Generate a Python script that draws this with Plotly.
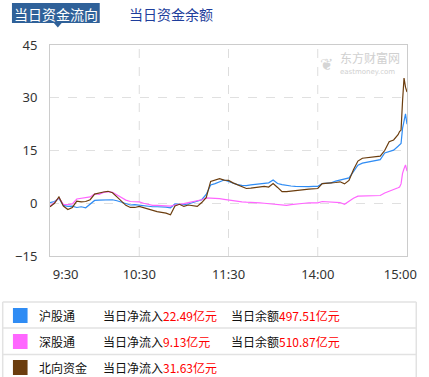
import plotly.graph_objects as go

# ---------------- data ----------------
minutes = [0, 3, 6, 9, 12, 15, 18, 21, 24, 27, 30, 33, 36, 39, 42, 45, 48, 51, 54, 57,
           60, 63, 66, 69, 72, 75, 78, 81, 84, 87, 90, 93, 96, 99, 102, 105, 108, 111, 114, 117,
           120, 123, 126, 129, 132, 135, 138, 141, 144, 147, 150, 153, 156, 159, 162, 165, 168, 171, 174, 177,
           180, 183, 186, 189, 192, 195, 198, 201, 204, 207, 210, 213, 216, 219, 222, 225, 228, 231, 234,
           235, 236, 237, 238, 239, 240]

sh_flow = [0.2, 0.5, 1.4, -0.6, -0.9, -0.8, -1.2, -1.0, -1.3, -0.2, 0.8, 0.9, 0.9, 1.0, 1.0, 0.7, 0.3, -0.3, -0.5, -0.4,
           -0.6, -0.8, -0.8, -1.0, -1.0, -1.0, -1.1, -1.3, -0.2, -0.3, -0.4, -0.2, 0.2, 0.4, 1.0, 2.5, 5.2, 5.6, 6.2, 6.6,
           6.2, 5.7, 5.3, 5.1, 5.0, 5.2, 5.3, 5.4, 5.6, 5.8, 6.6, 5.6, 5.3, 5.0, 4.9, 4.8, 4.7, 4.7, 4.7, 4.8,
           4.8, 5.6, 5.7, 5.8, 6.3, 6.6, 6.8, 7.2, 9.0, 10.8, 11.4, 11.7, 11.9, 12.1, 12.4, 14.3, 14.7, 15.1, 16.2,
           16.6, 17.0, 21.3, 23.8, 25.4, 22.49]

sz_flow = [-0.8, 0.2, 1.6, -0.3, -0.4, -0.2, 1.2, 1.4, 1.7, 1.8, 2.7, 2.5, 3.1, 3.3, 3.1, 2.4, 1.6, 0.9, 0.5, 0.4,
           0.4, 0.0, -0.4, -0.6, -0.6, -0.7, -0.8, -0.8, -0.5, -0.4, -0.1, 0.2, 0.4, 0.6, 1.0, 1.5, 1.5, 1.4, 1.3, 1.1,
           0.9, 0.6, 0.4, 0.4, 0.3, 0.3, 0.1, 0.1, 0.0, -0.1, -0.1, -0.2, -0.5, -0.6, -0.4, -0.2, -0.1, 0.0, 0.1, 0.1,
           0.1, 0.5, 0.4, 0.4, 0.3, 0.2, -0.3, 0.6, 1.4, 2.0, 2.0, 2.0, 2.0, 2.0, 2.2, 2.9, 3.5, 3.9, 4.4,
           4.6, 5.5, 8.5, 9.8, 10.9, 9.13]

north_flow = [-1.0, 0.0, 1.8, -0.8, -1.8, -1.2, 0.6, 0.4, 0.5, 1.0, 2.6, 3.0, 3.2, 3.4, 3.0, 1.8, 0.6, -0.6, -1.2, -1.2,
              -0.9, -1.3, -1.6, -2.2, -2.4, -2.6, -2.8, -3.3, -0.8, -0.3, -0.9, -0.5, -0.8, -0.9, 0.2, 1.6, 6.2, 6.6, 7.0, 6.6,
              6.5, 5.8, 5.3, 4.6, 4.2, 4.3, 4.5, 4.5, 4.8, 4.6, 5.6, 4.5, 3.3, 3.3, 3.5, 3.6, 3.8, 3.9, 4.0, 4.1,
              4.2, 5.6, 5.8, 5.8, 5.9, 6.1, 5.5, 6.5, 9.5, 12.0, 12.8, 12.9, 13.0, 13.1, 13.4, 15.0, 17.5, 18.0, 19.5,
              20.4, 20.8, 29.0, 35.6, 33.0, 31.63]

series_names = ["沪股通", "深股通", "北向资金"]
series_colors = ["#2F8CF4", "#FF66FF", "#6B3D0E"]
net_inflow = ["22.49", "9.13", "31.63"]
balance = ["497.51", "510.87", None]

x_tick_vals = [10.5, 60, 120, 180, 235.5]
x_tick_text = ["9:30", "10:30", "11:30", "14:00", "15:00"]
x_grid_vals = [60, 120, 180]
y_tick_vals = [-15, 0, 15, 30, 45]

# ---------------- figure ----------------
W, H = 429, 377
ML, MR, MT, MB = 50, 13, 45, 121
PW, PH = W - ML - MR, H - MT - MB


def px(x):
    return (x - ML) / PW


def py(y):
    return (H - MB - y) / PH


fig = go.Figure()
for name, vals, col in zip(series_names, [sh_flow, sz_flow, north_flow], series_colors):
    fig.add_trace(go.Scatter(x=minutes, y=vals, mode="lines", name=name,
                             line=dict(color=col, width=1.2), hoverinfo="skip"))

shapes = []
for gx in x_grid_vals:
    shapes.append(dict(type="line", xref="x", yref="paper", x0=gx, x1=gx, y0=0, y1=1,
                       line=dict(color="#DDDDDD", width=1, dash="dash"), layer="below"))

# header tab
shapes.append(dict(type="rect", xref="paper", yref="paper", x0=px(11), x1=px(101), y0=py(23), y1=py(3),
                   fillcolor="#2F6199", line=dict(width=0)))
shapes.append(dict(type="path", xref="paper", yref="paper",
                   path=f"M {px(54)} {py(23)} L {px(62)} {py(23)} L {px(58)} {py(27.5)} Z",
                   fillcolor="#2F6199", line=dict(width=0)))

# legend table lines
for ly in [302, 328, 354.5]:
    shapes.append(dict(type="line", xref="paper", yref="paper", x0=px(1.5), x1=px(425.5), y0=py(ly), y1=py(ly),
                       line=dict(color="#E2E2E2", width=1.5)))
shapes.append(dict(type="line", xref="paper", yref="paper", x0=px(1.5), x1=px(1.5), y0=py(302), y1=py(377),
                   line=dict(color="#E2E2E2", width=1.5)))
shapes.append(dict(type="line", xref="paper", yref="paper", x0=px(425.5), x1=px(425.5), y0=py(302), y1=py(377),
                   line=dict(color="#E2E2E2", width=1.5)))

annotations = [
    dict(text="当日资金流向", x=px(56), y=py(13.5), xref="paper", yref="paper", showarrow=False,
         font=dict(family="Noto Sans CJK SC", size=14, color="white"), xanchor="center", yanchor="middle"),
    dict(text="当日资金余额", x=px(129), y=py(13.5), xref="paper", yref="paper", showarrow=False,
         font=dict(family="Noto Sans CJK SC", size=14, color="#1E3E9C"), xanchor="left", yanchor="middle"),
    dict(text="东方财富网", x=px(345), y=py(58), xref="paper", yref="paper", showarrow=False,
         font=dict(family="Noto Sans CJK SC", size=12, color="#D0D0D0"), xanchor="left", yanchor="middle"),
    dict(text="eastmoney.com", x=px(345), y=py(72), xref="paper", yref="paper", showarrow=False,
         font=dict(family="DejaVu Sans", size=7, color="#D0D0D0"), xanchor="left", yanchor="middle"),
    dict(text="❦", x=px(333), y=py(64), xref="paper", yref="paper", showarrow=False,
         font=dict(family="DejaVu Sans", size=16, color="#D5D5D5"), xanchor="center", yanchor="middle"),
]

row_centers = [315.5, 341.5, 367.5]
for i, (name, col, inflow, bal) in enumerate(zip(series_names, series_colors, net_inflow, balance)):
    cy = row_centers[i]
    shapes.append(dict(type="rect", xref="paper", yref="paper", x0=px(12), x1=px(27), y0=py(cy + 7.5), y1=py(cy - 7.5),
                       fillcolor=col, line=dict(width=0)))
    annotations.append(dict(text=name, x=px(37), y=py(cy), xref="paper", yref="paper", showarrow=False,
                            font=dict(family="Noto Sans CJK SC", size=12, color="#111111"),
                            xanchor="left", yanchor="middle"))
    annotations.append(dict(text=f"当日净流入<span style='color:#FF0000'>{inflow}亿元</span>",
                            x=px(102), y=py(cy), xref="paper", yref="paper", showarrow=False,
                            font=dict(family="Noto Sans CJK SC", size=12, color="#111111"),
                            xanchor="left", yanchor="middle"))
    if bal is not None:
        annotations.append(dict(text=f"当日余额<span style='color:#FF0000'>{bal}亿元</span>",
                                x=px(234), y=py(cy), xref="paper", yref="paper", showarrow=False,
                                font=dict(family="Noto Sans CJK SC", size=12, color="#111111"),
                                xanchor="left", yanchor="middle"))

fig.update_layout(
    width=W, height=H,
    margin=dict(l=ML, r=MR, t=MT, b=MB, pad=0),
    paper_bgcolor="white", plot_bgcolor="white",
    showlegend=False,
    shapes=shapes,
    annotations=annotations,
    xaxis=dict(range=[0, 240], tickvals=x_tick_vals, ticktext=x_tick_text, showgrid=False, zeroline=False,
               showline=True, linecolor="#CCCCCC", linewidth=1, mirror=True, ticks="",
               tickfont=dict(family="Noto Sans", size=13, color="#333333"), ticklabelstandoff=6),
    yaxis=dict(range=[-15, 45], tickvals=y_tick_vals, showgrid=True, gridcolor="#E0E0E0", griddash="dash",
               zeroline=False, showline=True, linecolor="#CCCCCC", linewidth=1, mirror=True, ticks="",
               tickfont=dict(family="Noto Sans", size=13, color="#333333"), ticklabelstandoff=9),
)

fig.write_html("out.html")
